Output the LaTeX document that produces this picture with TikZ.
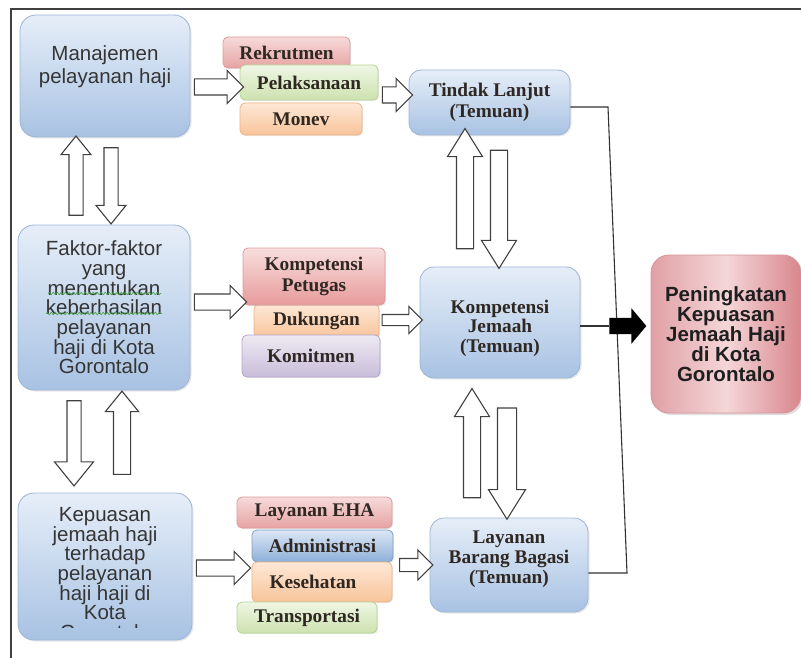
\documentclass[tikz,border=0pt]{standalone}
\usepackage{fontspec}
\setmainfont{Liberation Serif}
\newfontfamily\sansf{Liberation Sans}
\usetikzlibrary{shapes.arrows,shadows,calc,decorations.pathmorphing}

\definecolor{bluetop}{HTML}{E6EEF8}
\definecolor{bluebot}{HTML}{A8C2E3}
\definecolor{blueedge}{HTML}{9CB5D6}
\definecolor{pinktop}{HTML}{F7DADA}
\definecolor{pinkbot}{HTML}{E6A3A3}
\definecolor{pinkedge}{HTML}{D99C9C}
\definecolor{greentop}{HTML}{EFF6E4}
\definecolor{greenbot}{HTML}{CDE2AF}
\definecolor{greenedge}{HTML}{B6D394}
\definecolor{orangetop}{HTML}{FEE8D7}
\definecolor{orangebot}{HTML}{F8C49A}
\definecolor{orangeedge}{HTML}{EFB385}
\definecolor{purpletop}{HTML}{EEEAF3}
\definecolor{purplebot}{HTML}{C8BDDA}
\definecolor{purpleedge}{HTML}{B2A5CA}
\definecolor{admtop}{HTML}{DCE7F5}
\definecolor{admbot}{HTML}{8EAFD8}
\definecolor{admedge}{HTML}{7E9FCB}
\definecolor{penleft}{HTML}{E0A0A5}
\definecolor{penright}{HTML}{D8868D}
\definecolor{penmid}{HTML}{F5D6D8}
\definecolor{penedge}{HTML}{D8949A}
\definecolor{textgray}{HTML}{353535}
\definecolor{sertext}{HTML}{2E2722}
\definecolor{arrowgray}{HTML}{404040}
\definecolor{wavegreen}{HTML}{4AA04A}

\tikzset{
  bigbox/.style={draw=blueedge, line width=0.8pt, rounded corners=16pt,
    top color=bluetop, bottom color=bluebot,
    drop shadow={opacity=0.18, shadow xshift=1.5pt, shadow yshift=-1.5pt}},
  sanstext/.style={font=\sansf\fontsize{20.5}{19.7}\selectfont, text=textgray,
    align=center, inner sep=0pt},
  sertextstyle/.style={font=\bfseries\fontsize{19.3}{21}\selectfont, text=sertext,
    align=center, inner sep=0pt},
  smallbox/.style={rounded corners=5pt, line width=0.8pt, sertextstyle,
    drop shadow={opacity=0.18, shadow xshift=1.2pt, shadow yshift=-1.2pt}},
  pinkbox/.style={smallbox, draw=pinkedge, top color=pinktop, bottom color=pinkbot},
  greenbox/.style={smallbox, draw=greenedge, top color=greentop, bottom color=greenbot},
  orangebox/.style={smallbox, draw=orangeedge, top color=orangetop, bottom color=orangebot},
  purplebox/.style={smallbox, draw=purpleedge, top color=purpletop, bottom color=purplebot},
  admbox/.style={smallbox, draw=admedge, top color=admtop, bottom color=admbot},
  hollowarrow/.style={single arrow, draw=arrowgray, fill=white, line width=1.1pt,
    inner xsep=0pt, inner ysep=7.5pt, single arrow head extend=8.5pt,
    single arrow tip angle=90},
  varrowmid/.style={single arrow tip angle=64, inner ysep=8pt, single arrow head extend=9pt},
  varrowleft/.style={single arrow tip angle=78, inner ysep=6.5pt, single arrow head extend=8pt},
  conn/.style={draw=black!80, line width=1.1pt},
  spellwave/.style={draw=wavegreen, line width=0.7pt,
    decorate, decoration={snake, segment length=4pt, amplitude=1.1pt}},
}

\newcommand\hollow[3][]{%
  \path let \p1=#2, \p2=#3, \n1={veclen(\x2-\x1,\y2-\y1)} in
    (\p1) -- (\p2) node[hollowarrow,#1,midway,sloped,allow upside down,
      minimum height=\n1]{};}

\begin{document}
\begin{tikzpicture}[x=1pt,y=-1pt]
\useasboundingbox (0,0) rectangle (801,658);

% frame
\draw[line width=1.4pt, draw=black!75] (11,660) -- (11,9) -- (803,9);

% left column boxes
\node[bigbox, minimum width=170pt, minimum height=122pt] (man) at (105,76) {};
\node[sanstext, font=\sansf\fontsize{20.5}{23}\selectfont] (mantext) at (105,67)
  {Manajemen\\pelayanan haji};

\node[bigbox, sanstext, minimum width=172pt, minimum height=165pt] (fak) at (104,307.5)
  {Faktor-faktor\\yang\\menentukan\\keberhasilan\\pelayanan\\haji di Kota\\Gorontalo};
\draw[spellwave] ($(fak.center)+(-56,-14)$) -- ($(fak.center)+(57,-14)$);
\draw[spellwave] ($(fak.center)+(-58,6)$) -- ($(fak.center)+(58,6)$);

\node[bigbox, minimum width=174pt, minimum height=147pt] (kep) at (105,566.5) {};
\begin{scope}
  \clip (kep.north west) rectangle ($(kep.south east)+(0,-12.5)$);
  \node[sanstext, anchor=north] (keptext) at (105,507)
    {Kepuasan\\jemaah haji\\terhadap\\pelayanan\\haji haji di\\Kota\\Gorontalo};
\end{scope}

% top group
\node[pinkbox, minimum width=127pt, minimum height=31pt] (rek) at (286.5,52.5) {Rekrutmen};
\node[greenbox, minimum width=138pt, minimum height=35pt] (pel) at (309,82.5) {Pelaksanaan};
\node[orangebox, minimum width=122pt, minimum height=32pt] (mon) at (301,119) {Monev};

% middle group
\node[orangebox, minimum width=125pt, minimum height=34pt] (duk) at (316.5,321) {Dukungan};
\node[pinkbox, minimum width=142pt, minimum height=57pt, top color=pinktop!90!white, bottom color=pinkbot!95!red] (kp) at (314,276.5) {Kompetensi\\Petugas};
\node[purplebox, minimum width=138pt, minimum height=42pt] (kom) at (311,356) {Komitmen};

% bottom group
\node[pinkbox, minimum width=155pt, minimum height=31pt] (lea) at (314.5,512.5) {Layanan EHA};
\node[admbox, minimum width=141pt, minimum height=32pt] (adm) at (322.5,546) {Administrasi};
\node[orangebox, minimum width=140pt, minimum height=40pt] (kes) at (322,582) {\raisebox{-5pt}{Kesehatan}\hspace{18pt}};
\node[greenbox, minimum width=140pt, minimum height=31pt] (tra) at (307,617.5) {Transportasi};

% right-middle column
\node[bigbox, sertextstyle, rounded corners=12pt, minimum width=161pt, minimum height=65pt] (tl) at (489.5,102.5)
  {Tindak Lanjut\\(Temuan)};
\node[bigbox, rounded corners=14pt, minimum width=160pt, minimum height=111pt] (kj) at (500,322.5) {};
\node[sertextstyle, font=\bfseries\fontsize{19.3}{19.5}\selectfont] (kjtext) at (500,328)
  {Kompetensi\\Jemaah\\(Temuan)};
\node[bigbox, rounded corners=14pt, minimum width=158pt, minimum height=94pt] (lb) at (509,565) {};
\node[sertextstyle, font=\bfseries\fontsize{19.3}{20}\selectfont] (lbtext) at (509,559)
  {Layanan\\Barang Bagasi\\(Temuan)};

% result box
\node[draw=penedge, line width=0.8pt, rounded corners=18pt,
  left color=penleft, right color=penright, middle color=penmid,
  minimum width=150pt, minimum height=158pt,
  drop shadow={opacity=0.25, shadow xshift=2pt, shadow yshift=-2pt},
  font=\sansf\bfseries\fontsize{20.5}{20}\selectfont, text=black!88, align=center, inner sep=0pt]
  (pen) at (726,334) {Peningkatan\\Kepuasan\\Jemaah Haji\\di Kota\\Gorontalo};

% connector lines
\coordinate (ctop) at (608,107);
\coordinate (cbot) at (627,573);
\draw[conn] (tl.east |- ctop) -- (ctop) -- (cbot) -- (lb.east |- cbot);

\node[single arrow, fill=black, minimum height=37pt, inner xsep=0pt, inner ysep=8pt,
  single arrow head extend=9.5pt, single arrow tip angle=100, anchor=tip] (bk) at ($(pen.west)+(-4,-8)$) {};
\draw[conn] (bk.tail) -- (bk.tail -| kj.east);

% horizontal hollow arrows
\hollow[name=a1]{($(man.east)+(0,11)$)}{($(pel.west)+(0,4.5)$)}
\hollow[name=a2]{($(pel.east)+(0,12.5)$)}{($(tl.west)+(0,-7.5)$)}
\hollow[name=a3]{($(fak.east)+(0,-5.5)$)}{($(kp.west)+(0,25.5)$)}
\hollow[name=a4,inner ysep=5pt,single arrow head extend=8pt]{($(duk.east)+(0,-1)$)}{($(kj.west)+(0,-2.5)$)}
\hollow[name=a5]{($(kep.east)+(0,1.5)$)}{($(kes.west)+(-5,-14)$)}
\hollow[name=a6,inner ysep=6pt]{($(kes.east)+(4,-17)$)}{(lb.west)}

% vertical hollow arrows, left column
\hollow[name=a7,varrowleft]{($(fak.north)+(-28,-5)$)}{($(man.south)+(-29,3)$)}
\hollow[name=a8,varrowleft]{($(man.south)+(6,6)$)}{($(fak.north)+(7,-5)$)}
\hollow[name=a9,varrowleft,single arrow head extend=12.5pt]{($(fak.south)+(-30,6)$)}{($(kep.north)+(-31,-11)$)}
\hollow[name=a10,varrowleft,inner ysep=8pt]{($(kep.north)+(17,-13)$)}{($(fak.south)+(18,6)$)}

% vertical hollow arrows, middle column
\hollow[name=a11,varrowmid]{($(kj.north)+(-35,-11)$)}{($(tl.south)+(-24.5,0)$)}
\hollow[name=a12,varrowmid]{($(tl.south)+(9.5,8)$)}{($(kj.north)+(-1,-5)$)}
\hollow[name=a13,varrowmid]{($(lb.north)+(-37,-13)$)}{($(kj.south)+(-28,17)$)}
\hollow[name=a14,varrowmid,inner ysep=9pt]{($(kj.south)+(7,22)$)}{($(lb.north)+(-2,-6)$)}

\end{tikzpicture}
\end{document}
